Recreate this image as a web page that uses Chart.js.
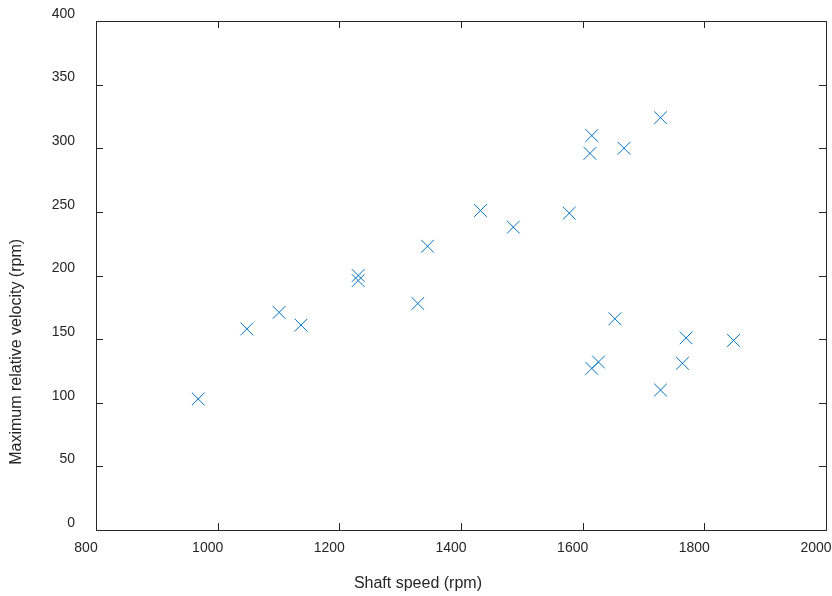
<!DOCTYPE html>
<html>
<head>
<meta charset="utf-8">
<script src="https://cdn.jsdelivr.net/npm/chart.js@4.4.1/dist/chart.umd.min.js"></script>
<style>
  body { margin: 0; background: #fff; }
  canvas { display: block; }
</style>
</head>
<body>
<canvas id="myChart" width="832" height="596"></canvas>
<script>
 // shaft speed vs max relative velocity, both in rpm
 const shaftSpeed = [968, 1048, 1101, 1137, 1231, 1231, 1329, 1345, 1432, 1486, 1578,
                     1615, 1612, 1668, 1728, 1653, 1615, 1626, 1728, 1770, 1764, 1848];
 const maxVelocity = [103, 158, 171, 161, 200, 196, 178, 223, 251, 238, 249,
                      310, 296, 300, 324, 166, 127, 132, 110, 151, 131, 149];
 const xTitle = 'Shaft speed (rpm)';
 const yTitle = 'Maximum relative velocity (rpm)';

 const INK = '#262626';
 const BLUE = '#0072BD';
 const FONT = '"Liberation Sans", Arial, Helvetica, sans-serif';

 // box around the plot, inward ticks on all four sides, axis titles
 const framePlugin = {
     id: 'frame',
     afterDraw(chart){
         const {ctx, chartArea: a, scales: {x, y}} = chart;
         const len = 7;
         ctx.save();
         ctx.strokeStyle = INK;
         ctx.lineWidth = 1;
         ctx.beginPath();
         for(let t of x.ticks){
             const px = Math.round(x.getPixelForValue(t.value)) + 0.5;
             ctx.moveTo(px, a.bottom); ctx.lineTo(px, a.bottom - len);
             ctx.moveTo(px, a.top); ctx.lineTo(px, a.top + len);
         }
         for(let t of y.ticks){
             const py = Math.round(y.getPixelForValue(t.value)) + 0.5;
             ctx.moveTo(a.left, py); ctx.lineTo(a.left + len, py);
             ctx.moveTo(a.right, py); ctx.lineTo(a.right - len, py);
         }
         ctx.stroke();
         ctx.strokeRect(Math.round(a.left) + 0.5, Math.round(a.top) + 0.5,
                        Math.round(a.right - a.left), Math.round(a.bottom - a.top));

         ctx.fillStyle = INK;
         ctx.font = '16px ' + FONT;
         ctx.textAlign = 'center';
         ctx.textBaseline = 'middle';
         ctx.fillText(xTitle, a.left + (a.right - a.left) * 0.441, 584);
         ctx.translate(17, a.top + (a.bottom - a.top) * 0.65);
         ctx.rotate(-Math.PI / 2);
         ctx.fillText(yTitle, 0, 0);
         ctx.restore();
     }
 };

 const points = shaftSpeed.map((s, i) => ({x: s, y: maxVelocity[i]}));

 const CHART = document.getElementById('myChart');
 const myChart = new Chart(CHART, {
     type: 'scatter',
     data: {
         datasets: [{
             data: points,
             pointStyle: 'crossRot',
             pointRadius: 9,
             pointHoverRadius: 9,
             borderColor: BLUE,
             backgroundColor: BLUE,
             pointHoverBorderColor: BLUE,
             pointHoverBackgroundColor: BLUE,
             borderWidth: 1
         }]
     },
     options: {
         responsive: false,
         animation: false,
         events: [],
         layout: {autoPadding: false, padding: {top: 21, right: 6, left: 0, bottom: 0}},
         plugins: {legend: {display: false}, tooltip: {enabled: false}},
         scales: {
             x: {
                 min: 800, max: 2000,
                 grid: {display: false, drawTicks: false},
                 border: {display: false},
                 ticks: {stepSize: 200, color: INK, font: {family: FONT, size: 14},
                         padding: 10, labelOffset: -10, maxRotation: 0,
                         callback: v => String(v)},
                 afterFit(scale){ scale.height = 66; scale.paddingLeft = 0; scale.paddingRight = 0; }
             },
             y: {
                 min: 0, max: 400,
                 grid: {display: false, drawTicks: false},
                 border: {display: false},
                 ticks: {stepSize: 50, color: INK, font: {family: FONT, size: 14},
                         padding: 21, labelOffset: -7, callback: v => String(v)},
                 afterFit(scale){ scale.width = 96; scale.paddingTop = 0; scale.paddingBottom = 0; }
             }
         }
     },
     plugins: [framePlugin]
 });
</script>
</body>
</html>
